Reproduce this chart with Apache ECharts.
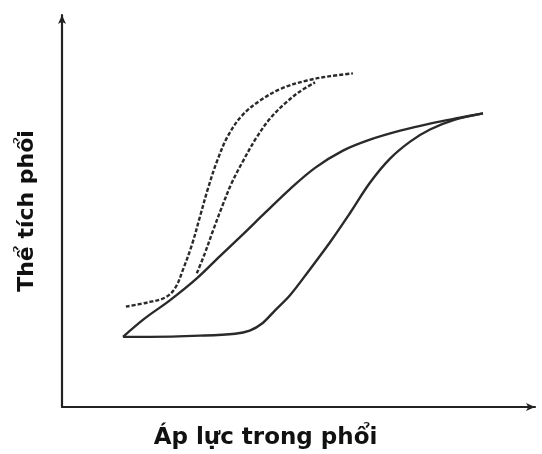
<!DOCTYPE html>
<html>
<head>
<meta charset="utf-8">
<script src="https://cdn.jsdelivr.net/npm/echarts@6/dist/echarts.min.js"></script>
<style>html,body{margin:0;padding:0;background:#fff}#c{width:542px;height:454px}</style>
</head>
<body>
<div id="c"></div>
<script>
// Axis titles
const xAxisTitle = 'Áp lực trong phổi';
const yAxisTitle = 'Thể tích phổi';

// Dashed loop: baseline + left branch (pressure, volume in arbitrary units 0-100)
const dashedLeftX = [13.5, 18.2, 21.8, 23.9, 25.6, 27.5, 29.2, 30.9, 32.8, 35.1, 38.1, 41.9, 46.5, 51.8, 56.7, 61.5];
const dashedLeftY = [25.6, 26.7, 27.9, 30.3, 35.1, 41.5, 48.7, 55.9, 62.8, 69.2, 74.4, 78.2, 81.3, 83.3, 84.4, 85.1];
// Dashed loop: right branch
const dashedRightX = [28.5, 30.2, 31.9, 33.8, 35.9, 38.3, 41.0, 44.0, 47.1, 50.3, 53.5];
const dashedRightY = [34.1, 39.2, 44.9, 51.0, 57.2, 62.8, 68.5, 73.6, 77.4, 80.5, 82.8];
// Solid loop: upper branch
const solidUpperX = [12.9, 17.5, 22.8, 28.5, 33.4, 38.3, 42.9, 48.2, 53.5, 59.4, 65.1, 71.5, 77.8, 84.1, 89.0];
const solidUpperY = [17.9, 22.6, 27.2, 32.8, 38.5, 44.1, 49.5, 55.6, 61.0, 65.4, 68.2, 70.5, 72.3, 73.8, 74.9];
// Solid loop: lower branch
const solidLowerX = [12.9, 18.6, 29.2, 36.6, 39.7, 42.3, 45.0, 48.2, 52.4, 56.7, 60.9, 65.1, 69.3, 73.6, 77.8, 83.1, 89.0];
const solidLowerY = [17.9, 17.9, 18.2, 18.7, 19.5, 21.3, 24.6, 28.5, 35.1, 42.1, 49.5, 57.2, 63.3, 67.7, 70.8, 73.3, 74.9];

const pairs = (xs, ys) => xs.map((x, i) => [x, ys[i]]);
const lineColor = '#2a2a2a';

const chart = echarts.init(document.getElementById('c'), null, {renderer: 'canvas'});
const mkLine = (xs, ys, dashed) => ({
  type: 'line', data: pairs(xs, ys), smooth: 0.35, showSymbol: false, symbol: 'none',
  lineStyle: {color: lineColor, width: 2.4, type: dashed ? [4, 2] : 'solid'},
  silent: true, animation: false
});
chart.setOption({
  animation: false,
  backgroundColor: '#fff',
  grid: {left: 62, right: 7, top: 15, bottom: 47, containLabel: false, outerBoundsMode: 'none'},
  xAxis: {
    type: 'value', min: 0, max: 100,
    name: xAxisTitle, nameLocation: 'middle', nameGap: 20,
    nameTextStyle: {fontFamily: 'DejaVu Sans', fontWeight: 'bold', fontSize: 23, color: '#111', padding: [0, 66, 0, 0]},
    axisLine: {lineStyle: {color: '#222', width: 2.2}, symbol: ['none', 'arrow'], symbolSize: [6, 9]},
    axisTick: {show: false}, axisLabel: {show: false}, splitLine: {show: false}
  },
  yAxis: {
    type: 'value', min: 0, max: 100,
    name: yAxisTitle, nameLocation: 'middle', nameGap: 24, nameRotate: 90,
    nameTextStyle: {fontFamily: 'DejaVu Sans', fontWeight: 'bold', fontSize: 22, color: '#111'},
    axisLine: {show: true, lineStyle: {color: '#222', width: 2.2}, symbol: ['none', 'arrow'], symbolSize: [6, 9]},
    axisTick: {show: false}, axisLabel: {show: false}, splitLine: {show: false}
  },
  series: [
    mkLine(dashedLeftX, dashedLeftY, true),
    mkLine(dashedRightX, dashedRightY, true),
    mkLine(solidUpperX, solidUpperY, false),
    mkLine(solidLowerX, solidLowerY, false)
  ]
});
</script>
</body>
</html>
